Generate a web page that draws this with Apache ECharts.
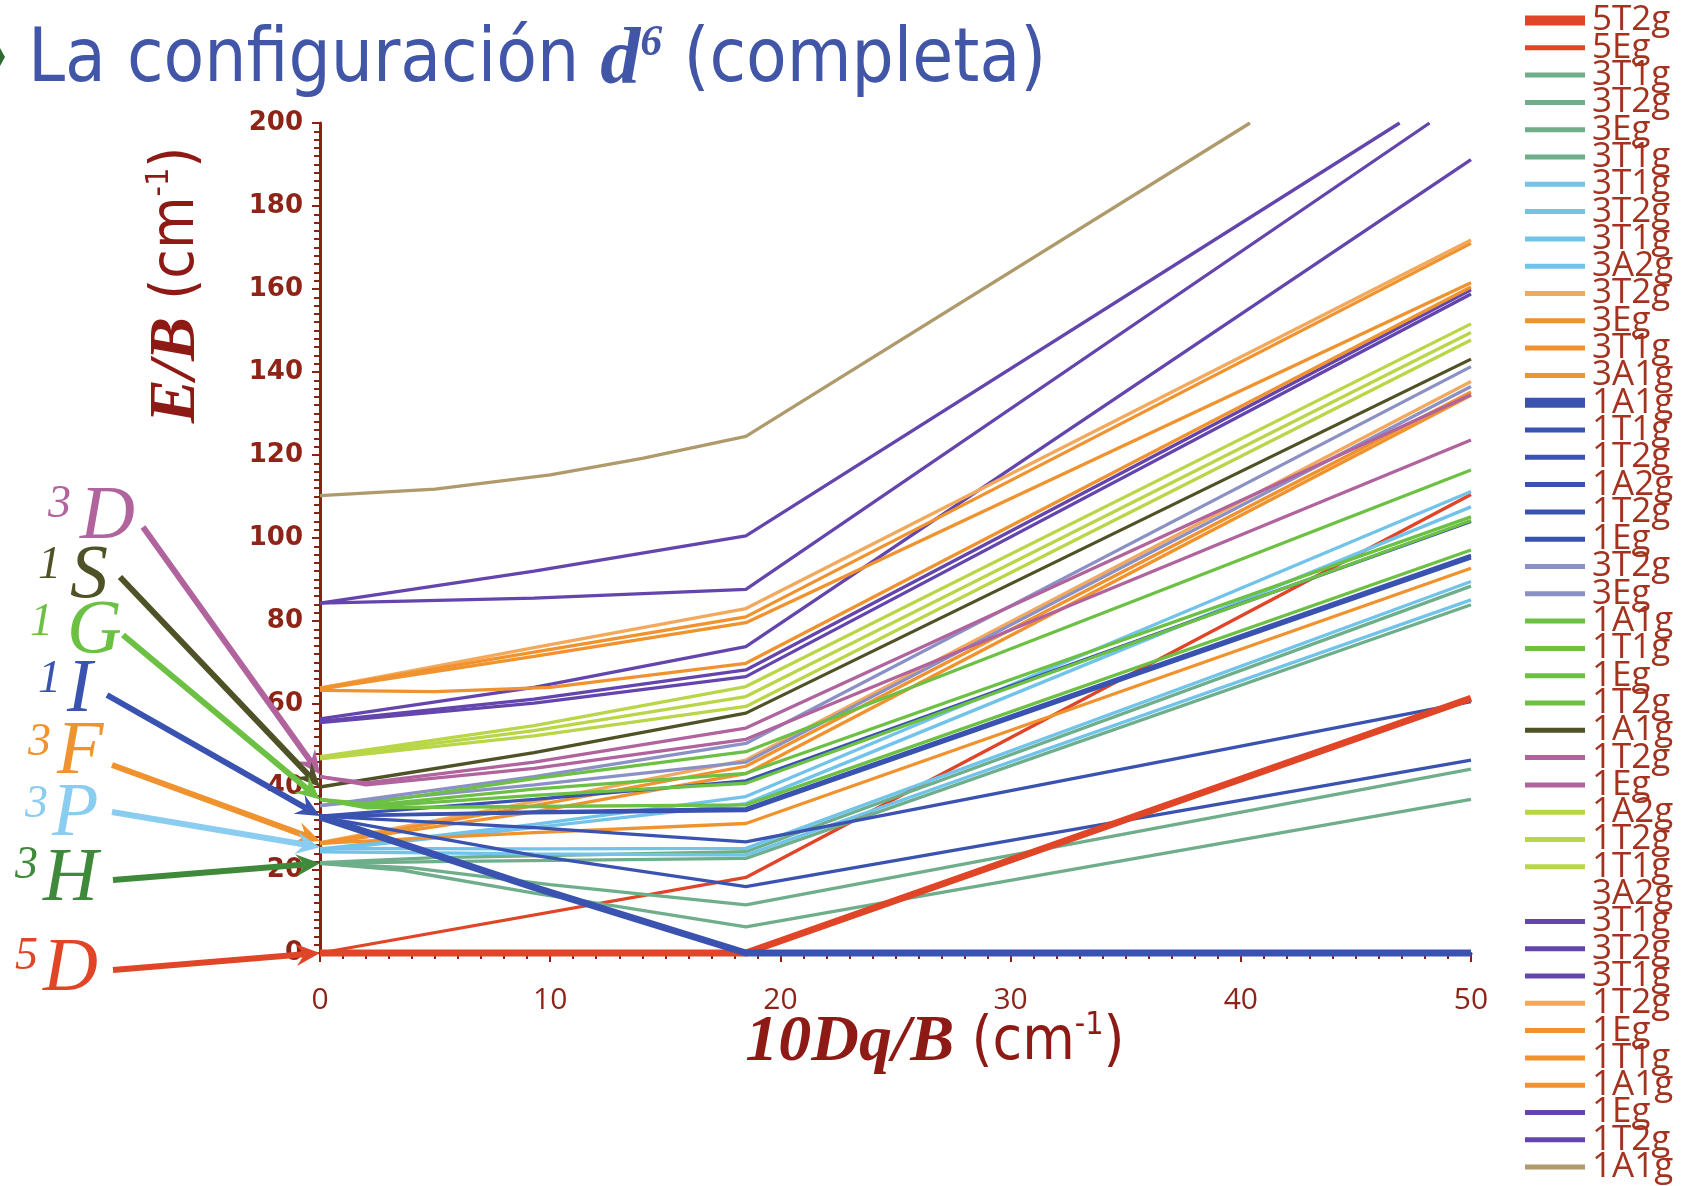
<!DOCTYPE html>
<html>
<head>
<meta charset="utf-8">
<script src="https://cdn.jsdelivr.net/npm/echarts@6/dist/echarts.min.js"></script>
<style>
  html, body { margin: 0; padding: 0; background: #ffffff; }
  #chart { width: 1686px; height: 1186px; }
</style>
</head>
<body>
<div id="chart"></div>
<script>
// Tanabe–Sugano diagram, d6 configuration: E/B against 10Dq/B.
// Each curve is a list of [10Dq/B, E/B] points; the kink at about 18.5
// is the high-spin / low-spin crossover where the ground state changes.

// ---- free-ion terms (left-hand labels) ----
const termSpins   = ['3', '1', '1', '1', '3', '3', '3', '5'];
const termLetters = ['D', 'S', 'G', 'I', 'F', 'P', 'H', 'D'];
const termLevels  = [43, 40, 37, 33, 27, 25.5, 21.6, 0];

// ---- states, grouped by parent term ----
const names5D = ['5T2g', '5Eg'];
const curves5D = [
  [[0, 0], [18.5, 0], [50, 61.4]],
  [[0, 0], [18.5, 18.2], [50, 110.5]]
];

const names3H = ['3T1g', '3T2g', '3Eg', '3T1g'];
const curves3H = [
  [[0, 21.6], [4, 20.5], [10, 16.5], [18.5, 11.6], [50, 44.3]],
  [[0, 21.6], [5, 22.0], [18.5, 22.8], [50, 83.9]],
  [[0, 21.8], [5, 23.0], [18.5, 24.4], [50, 88.4]],
  [[0, 21.6], [3.5, 20.0], [9.3, 14.4], [18.5, 6.3], [50, 37.0]]
];

const names3P = ['3T1g', '3T2g', '3T1g', '3A2g'];
const curves3P = [
  [[0, 25.0], [9.3, 31.0], [18.5, 37.7], [50, 111.2]],
  [[0, 24.8], [9.3, 30.2], [18.5, 36.0], [50, 107.5]],
  [[0, 25.2], [9.3, 25.1], [18.5, 25.2], [50, 89.5]],
  [[0, 24.4], [9.3, 23.9], [18.5, 23.6], [50, 85.1]]
];

const names3G = ['3T2g', '3Eg', '3T1g', '3A1g'];
const curves3G = [
  [[0, 26.6], [9.3, 36.5], [18.5, 46.5], [50, 137.7]],
  [[0, 26.5], [9.3, 35.5], [18.5, 45.0], [50, 135.2]],
  [[0, 26.3], [9.3, 34.0], [18.5, 43.2], [50, 134.4]],
  [[0, 26.4], [9.3, 29.0], [18.5, 31.2], [50, 92.7]]
];

const names1I = ['1A1g', '1T1g', '1T2g', '1A2g', '1T2g', '1Eg'];
const curves1I = [
  [[0, 32.8], [9.3, 15.8], [18.5, 0], [50, 0]],
  [[0, 33.0], [9.3, 37.0], [18.5, 41.5], [50, 104.0]],
  [[0, 33.0], [9.3, 33.8], [18.5, 34.3], [50, 95.2]],
  [[0, 33.0], [9.3, 34.0], [18.5, 34.8], [50, 95.8]],
  [[0, 33.0], [9.3, 30.2], [18.5, 26.8], [50, 60.6]],
  [[0, 32.8], [9.3, 23.5], [18.5, 16.0], [50, 46.5]]
];

const names3D = ['3T2g', '3Eg'];
const curves3D = [
  [[0, 35.5], [9.3, 42.5], [18.5, 50.5], [50, 141.3]],
  [[0, 35.5], [9.3, 40.5], [18.5, 46.0], [50, 136.5]]
];

const names1G = ['1A1g', '1T1g', '1Eg', '1T2g'];
const curves1G = [
  [[0, 37], [2, 36.0], [9.3, 42.0], [18.5, 48.5], [50, 116.4]],
  [[0, 37], [2, 35.5], [9.3, 39.5], [18.5, 43.3], [50, 105.1]],
  [[0, 37], [2, 35.2], [9.3, 38.0], [18.5, 40.9], [50, 104.2]],
  [[0, 37], [2, 35.0], [9.3, 35.3], [18.5, 35.7], [50, 97.1]]
];

const names1S = ['1A1g'];
const curves1S = [
  [[0, 40.0], [9.3, 48.3], [18.5, 57.8], [50, 143.1]]
];

const names1D = ['1T2g', '1Eg'];
const curves1D = [
  [[0, 42.5], [2, 41.0], [9.3, 46.0], [18.5, 54.2], [50, 134.5]],
  [[0, 42.5], [2, 40.5], [9.3, 44.5], [18.5, 51.5], [50, 123.6]]
];

const names1F = ['1A2g', '1T2g', '1T1g'];
const curves1F = [
  [[0, 47.3], [9.3, 54.8], [18.5, 64.2], [50, 151.6]],
  [[0, 47.0], [9.3, 53.6], [18.5, 61.8], [50, 149.5]],
  [[0, 46.8], [9.3, 52.3], [18.5, 59.4], [50, 147.7]]
];

const names3F2 = ['3A2g', '3T1g', '3T2g', '3T1g'];
const curves3F2 = [
  [],
  [[0, 56.4], [9.3, 64.0], [18.5, 73.8], [50, 191.2]],
  [[0, 55.8], [9.3, 61.2], [18.5, 68.2], [50, 159.8]],
  [[0, 55.5], [9.3, 60.2], [18.5, 66.6], [50, 158.8]]
];

const names1G2 = ['1T2g', '1Eg', '1T1g', '1A1g'];
const curves1G2 = [
  [[0, 63.8], [9.3, 73.6], [18.5, 83.0], [50, 171.8]],
  [[0, 63.8], [9.3, 72.5], [18.5, 81.0], [50, 171.0]],
  [[0, 63.6], [9.3, 71.5], [18.5, 79.6], [50, 161.5]],
  [[0, 63.3], [5, 63.0], [10, 64.0], [18.5, 69.8], [50, 160.5]]
];

const names1D2 = ['1Eg', '1T2g'];
const curves1D2 = [
  [[0, 84.3], [9.3, 92.0], [18.5, 100.5], [46.9, 200]],
  [[0, 84.3], [9.3, 85.5], [18.5, 87.6], [48.2, 200]]
];

const names1S2 = ['1A1g'];
const curves1S2 = [
  [[0, 110.2], [5, 111.8], [10, 115.2], [14, 119.2], [18.5, 124.5], [40.4, 200]]
];

// ---- styling ----
const RED = '#df4526', SAGE = '#6fae8b', SKY = '#72c3ea', ORANGE = '#f0922e',
      ORANGE_LT = '#f2a95e', BLUE = '#3a53b0', LAVENDER = '#8b91c4',
      GREEN = '#6cc043', OLIVE = '#4f5126', MAUVE = '#b0639c',
      LIME = '#b8d647', PURPLE = '#6345ad', TAN = '#ae9a6a';
const AXIS = '#8c1f16';

const groups = [
  { names: names5D,  curves: curves5D,  colors: [RED, RED], thick: [true, false] },
  { names: names3H,  curves: curves3H,  colors: [SAGE, SAGE, SAGE, SAGE] },
  { names: names3P,  curves: curves3P,  colors: [SKY, SKY, SKY, SKY] },
  { names: names3G,  curves: curves3G,  colors: [ORANGE_LT, ORANGE, ORANGE, ORANGE] },
  { names: names1I,  curves: curves1I,  colors: [BLUE, BLUE, BLUE, BLUE, BLUE, BLUE], thick: [true] },
  { names: names3D,  curves: curves3D,  colors: [LAVENDER, LAVENDER] },
  { names: names1G,  curves: curves1G,  colors: [GREEN, GREEN, GREEN, GREEN] },
  { names: names1S,  curves: curves1S,  colors: [OLIVE] },
  { names: names1D,  curves: curves1D,  colors: [MAUVE, MAUVE] },
  { names: names1F,  curves: curves1F,  colors: [LIME, LIME, LIME] },
  { names: names3F2, curves: curves3F2, colors: ['rgba(0,0,0,0)', PURPLE, PURPLE, PURPLE] },
  { names: names1G2, curves: curves1G2, colors: [ORANGE_LT, ORANGE, ORANGE, ORANGE] },
  { names: names1D2, curves: curves1D2, colors: [PURPLE, PURPLE] },
  { names: names1S2, curves: curves1S2, colors: [TAN] }
];
const termColors = [MAUVE, OLIVE, GREEN, BLUE, ORANGE, '#8acdf0', '#3f8a3a', RED];

// legend swatches: a bar inside a fixed 60x10 box
const ICON_THIN  = 'path://M0,0L0,0M0,2.5H60V7.5H0ZM60,10L60,10';
const ICON_THICK = 'path://M0,0H60V10H0Z';

const series = [];
const legendData = [];
let serial = 0;
groups.forEach(g => {
  g.names.forEach((label, i) => {
    const thick = !!(g.thick && g.thick[i]);
    const name = label + '#' + (serial++);
    const color = g.colors[i];
    series.push({
      name: name,
      type: 'line',
      data: g.curves[i],
      symbol: 'none',
      showSymbol: false,
      smooth: false,
      clip: !thick,
      z: thick ? 4 : 2,
      lineStyle: { color: color, width: thick ? 7 : 3.3 },
      itemStyle: { color: color },
      emphasis: { disabled: true }
    });
    legendData.push({ name: name, icon: thick ? ICON_THICK : ICON_THIN });
  });
});

const chart = echarts.init(document.getElementById('chart'));

chart.setOption({
  animation: false,
  backgroundColor: '#ffffff',
  grid: { left: 320, right: 215, top: 123, bottom: 233, containLabel: false },
  xAxis: {
    type: 'value',
    min: 0, max: 50, interval: 10,
    axisLine: { show: true, lineStyle: { color: AXIS, width: 3 } },
    axisTick: { show: true, length: 9, lineStyle: { color: AXIS, width: 2 } },
    minorTick: { show: true, splitNumber: 10, length: 6, lineStyle: { color: AXIS, width: 2 } },
    splitLine: { show: false },
    axisLabel: { margin: 32, color: '#8e2418', fontFamily: 'Open Sans', fontSize: 30 }
  },
  yAxis: {
    type: 'value',
    min: 0, max: 200, interval: 20,
    axisLine: { show: true, lineStyle: { color: AXIS, width: 3 } },
    axisTick: { show: true, length: 8, lineStyle: { color: AXIS, width: 2 } },
    minorTick: { show: true, splitNumber: 10, length: 6, lineStyle: { color: AXIS, width: 2 } },
    splitLine: { show: false },
    axisLabel: { margin: 17, color: '#8e2418', fontFamily: 'DejaVu Sans', fontWeight: 'bold', fontSize: 26 }
  },
  legend: {
    orient: 'vertical',
    left: 1525, top: 3, height: 1200,
    padding: 0,
    itemWidth: 60, itemHeight: 10, itemGap: -7.7,
    selectedMode: false,
    formatter: name => name.split('#')[0],
    textStyle: {
      fontFamily: 'Open Sans', fontSize: 35, lineHeight: 22,
      color: '#a3321f', padding: [0, 0, 0, 2]
    },
    data: legendData
  },
  series: series
});

// ---- text and term arrows ----
const termLayout = [
  { lx: 80, ly: 518, sx: 48, sy: 505, ax: 143, ay: 527 },
  { lx: 70, ly: 577, sx: 38, sy: 566, ax: 120, ay: 577 },
  { lx: 67, ly: 632, sx: 30, sy: 623, ax: 123, ay: 635 },
  { lx: 67, ly: 691, sx: 38, sy: 680, ax: 107, ay: 695 },
  { lx: 57, ly: 753, sx: 28, sy: 743, ax: 112, ay: 765 },
  { lx: 52, ly: 815, sx: 25, sy: 805, ax: 112, ay: 812 },
  { lx: 43, ly: 880, sx: 15, sy: 866, ax: 113, ay: 880 },
  { lx: 43, ly: 970, sx: 15, sy: 957, ax: 113, ay: 970 }
];

const graphics = [];

// slide bullet at the left edge
graphics.push({
  type: 'polygon', z: 100,
  shape: { points: [[0, 48], [5, 57], [0, 66]] },
  style: { fill: '#2f6a35' }
});

// title
graphics.push({
  type: 'text', z: 100,
  style: {
    x: 28, y: 62, verticalAlign: 'middle', align: 'left',
    text: '{t|La configuración }{d|d}{s|6}{t| (completa)}',
    rich: {
      t: { fontFamily: '"DejaVu Sans Condensed", "Liberation Sans Narrow", "Open Sans"', fontSize: 74, fill: '#4256a8' },
      d: { fontFamily: '"Liberation Serif"', fontStyle: 'italic', fontWeight: 'bold', fontSize: 80, fill: '#4256a8' },
      s: { fontFamily: '"Liberation Serif"', fontStyle: 'italic', fontWeight: 'bold', fontSize: 44, fill: '#4256a8', verticalAlign: 'top' }
    }
  }
});

// y-axis title
graphics.push({
  type: 'text', z: 100,
  x: 177, y: 285, rotation: Math.PI / 2,
  style: {
    x: 0, y: 0, align: 'center', verticalAlign: 'middle',
    text: '{a|E/B}{b| (cm}{c|-1}{b|)}',
    rich: {
      a: { fontFamily: '"Liberation Serif"', fontStyle: 'italic', fontWeight: 'bold', fontSize: 66, fill: '#8e1a16' },
      b: { fontFamily: '"DejaVu Sans Condensed", "Liberation Sans Narrow", "Open Sans"', fontSize: 60, fill: '#8e1a16' },
      c: { fontFamily: '"DejaVu Sans Condensed", "Liberation Sans Narrow", "Open Sans"', fontSize: 32, fill: '#8e1a16', verticalAlign: 'top' }
    }
  }
});

// x-axis title
graphics.push({
  type: 'text', z: 100,
  style: {
    x: 935, y: 1043, align: 'center', verticalAlign: 'middle',
    text: '{a|10Dq/B}{b| (cm}{c|-1}{b|)}',
    rich: {
      a: { fontFamily: '"Liberation Serif"', fontStyle: 'italic', fontWeight: 'bold', fontSize: 66, fill: '#8e1a16' },
      b: { fontFamily: '"DejaVu Sans Condensed", "Liberation Sans Narrow", "Open Sans"', fontSize: 60, fill: '#8e1a16' },
      c: { fontFamily: '"DejaVu Sans Condensed", "Liberation Sans Narrow", "Open Sans"', fontSize: 32, fill: '#8e1a16', verticalAlign: 'top' }
    }
  }
});

// term symbols with arrows pointing at their energy on the axis
termLetters.forEach((letter, k) => {
  const L = termLayout[k];
  const color = termColors[k];
  const tip = chart.convertToPixel({ gridIndex: 0 }, [0, termLevels[k]]);
  let dx = tip[0] - L.ax, dy = tip[1] - L.ay;
  const len = Math.hypot(dx, dy);
  dx /= len; dy /= len;
  const nx = -dy, ny = dx;
  const hl = 24, hw = 11;
  const base = [tip[0] - dx * hl, tip[1] - dy * hl];
  const notch = [tip[0] - dx * hl * 0.65, tip[1] - dy * hl * 0.65];

  graphics.push({
    type: 'line', z: 100,
    shape: { x1: L.ax, y1: L.ay, x2: notch[0], y2: notch[1] },
    style: { stroke: color, lineWidth: 6 }
  });
  graphics.push({
    type: 'polygon', z: 100,
    shape: { points: [tip, [base[0] + nx * hw, base[1] + ny * hw], notch, [base[0] - nx * hw, base[1] - ny * hw]] },
    style: { fill: color }
  });
  graphics.push({
    type: 'text', z: 100,
    style: { x: L.lx, y: L.ly, text: letter, align: 'left', verticalAlign: 'middle',
             font: 'italic 76px "Liberation Serif"', fill: color }
  });
  graphics.push({
    type: 'text', z: 100,
    style: { x: L.sx, y: L.sy, text: termSpins[k], align: 'left', verticalAlign: 'middle',
             font: 'italic 46px "Liberation Serif"', fill: color }
  });
});

chart.setOption({ graphic: graphics });
</script>
</body>
</html>
